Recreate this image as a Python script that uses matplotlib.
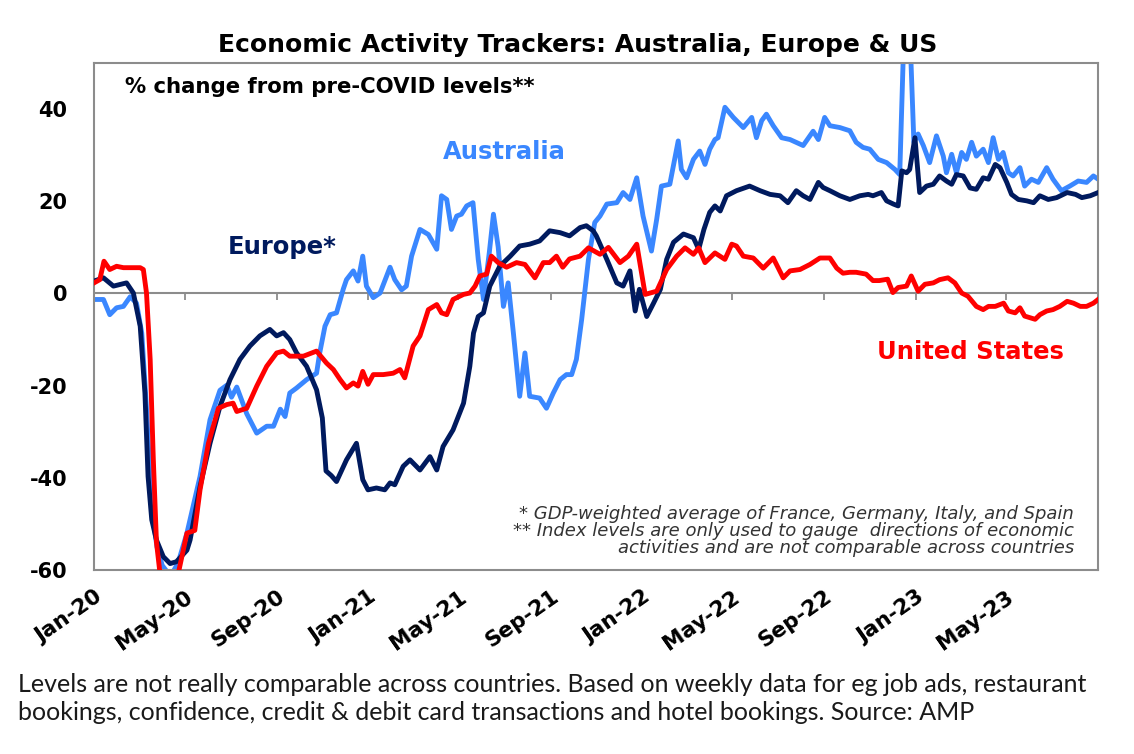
import numpy as np
import pandas as pd
import matplotlib
matplotlib.use("Agg")
import matplotlib.pyplot as plt

# Weekly trackers: weeks since 1 Jan 2020 and % change from pre-COVID.
start = pd.Timestamp("2020-01-01")

au_weeks = [0, 1.8, 3.0, 4.3, 5.6, 6.9, 8.1, 9.1, 10.0, 11.0, 12.0, 13.0, 14.0, 15.0, 16.0,
            17.7, 20.2, 22.1, 24.0, 25.3, 26.2, 27.2, 29.1, 31.0, 32.9, 34.2, 35.5, 36.4,
            37.3, 38.6, 40.5, 42.4, 43.0, 44.0, 45.0, 46.2, 47.5, 48.1, 49.4, 50.3, 51.2,
            51.9, 53.2, 54.5, 56.4, 57.3, 58.6, 59.5, 60.5, 62.1, 63.7, 65.3, 66.2, 67.2,
            68.1, 69.1, 70.0, 71.0, 72.2, 73.2, 74.2, 75.3, 76.1, 77.0, 78.0, 78.9, 79.9,
            81.1, 82.1, 83.0, 84.9, 86.2, 87.5, 88.8, 90.0, 91.0, 91.9, 92.9, 94.2, 95.4,
            96.4, 97.7, 99.6, 100.8, 102.1, 103.4, 104.6, 106.2, 107.2, 108.1, 109.7, 111.3,
            111.9, 112.9, 114.2, 115.4, 116.4, 117.3, 118.3, 118.9, 120.2, 121.8, 123.7,
            125.3, 126.2, 127.2, 128.1, 129.4, 131.0, 132.6, 135.1, 137.0, 138.0, 139.2,
            140.2, 142.1, 144.0, 145.2, 146.5, 147.8, 149.4, 151.0, 152.6, 153.5, 154.4,
            155.4, 156.2, 157.0, 158.0, 159.2, 160.5, 161.8, 162.4, 163.4, 164.3, 165.3,
            166.2, 167.2, 168.1, 169.4, 170.4, 171.3, 172.3, 173.2, 174.2, 175.1, 176.4,
            177.3, 178.6, 179.9, 181.5, 182.7, 184.3, 185.9, 187.5, 189.1, 190.4, 191.3]
au_vals = [-1.3, -1.3, -4.6, -3.1, -2.8, -0.7, -2.1, -8.6, -25, -47, -55, -59, -60.5, -60.5, -58.5,
           -52, -39.7, -27.4, -21, -19.9, -22.5, -20.3, -26.1, -30.3, -28.8, -28.8, -25.1, -26.7,
           -21.6, -20.5, -18.7, -17.3, -12.9, -7.1, -4.6, -4.2, 1.0, 3.0, 4.9, 2.7, 8.1,
           1.6, -0.9, 0.1, 5.7, 3.0, 0.8, 1.6, 8.1, 13.9, 12.8, 9.6, 21.2, 20.4,
           13.9, 16.8, 17.2, 19.0, 19.7, 7.4, -1.3, 8.8, 17.2, 10.1, -2.8, 2.3, -8.6,
           -22.3, -12.9, -22.3, -22.7, -24.9, -21.6, -18.7, -17.6, -17.6, -14.3, -5.7, 7.4, 15.4,
           16.8, 19.4, 19.7, 21.9, 20.4, 25.1, 16.8, 9.2, 16.1, 23.3, 23.7, 33.1,
           26.9, 25.1, 29.1, 30.9, 28.0, 31.3, 33.4, 33.8, 40.4, 38.2, 36.0,
           38.2, 33.8, 37.5, 38.9, 36.4, 33.8, 33.4, 32.1, 35.2, 33.4, 38.2,
           36.4, 36.0, 35.3, 32.8, 31.7, 31.3, 29.1, 28.4, 26.9, 25.8, 60,
           58, 32.8, 34.6, 32.1, 28.4, 34.2, 29.8, 26.2, 30.2, 26.2, 30.6,
           29.1, 32.8, 29.8, 31.3, 28.4, 33.8, 29.1, 30.6, 26.2, 25.5, 27.3,
           23.3, 24.8, 24.1, 27.3, 24.8, 22.3, 23.3, 24.4, 24.1, 25.5, 24.8]

eu_weeks = [0, 1.8, 3.7, 6.2, 7.5, 8.8, 9.7, 10.3, 11.0, 11.9, 13.2, 14.5, 15.7, 17.7, 18.3,
            20.2, 22.1, 24.0, 25.9, 27.8, 29.7, 31.6, 33.5, 34.8, 36.1, 37.3, 38.6, 40.5,
            42.4, 43.5, 44.2, 45.2, 46.2, 48.1, 50.0, 51.2, 52.2, 53.8, 55.4, 56.4, 57.3,
            58.9, 60.2, 62.1, 64.0, 65.3, 66.5, 68.4, 70.4, 71.6, 72.3, 73.2, 74.2, 75.4,
            77.3, 79.3, 81.1, 83.0, 84.9, 86.8, 88.8, 90.6, 92.6, 93.8, 95.1, 95.7, 97.7,
            99.6, 100.8, 102.1, 103.1, 103.9, 105.3, 106.6, 107.9, 109.1, 110.4, 112.3,
            114.2, 115.2, 116.2, 117.3, 118.3, 119.3, 120.5, 122.4, 124.9, 126.9, 128.8,
            130.7, 132.2, 133.8, 135.1, 136.4, 138.0, 138.9, 140.2, 142.1, 144.0, 145.9,
            147.5, 148.4, 150.0, 151.0, 152.3, 153.2, 153.9, 154.8, 155.4, 156.4, 157.3,
            158.6, 159.9, 161.1, 162.4, 163.4, 164.3, 165.6, 166.9, 168.1, 169.4, 170.4,
            171.7, 172.6, 173.9, 174.8, 176.1, 177.7, 179.0, 180.2, 181.8, 183.4, 185.4,
            187.0, 188.2, 189.8, 191.3]
eu_vals = [2.7, 3.4, 1.6, 2.3, 0.1, -7.1, -21.6, -39.7, -49.1, -53.5, -57.1, -58.6, -58.2, -55.7, -53.5,
           -41.9, -32.5, -24.5, -18.7, -14.3, -11.4, -9.2, -7.8, -9.2, -8.5, -10.0, -12.9, -15.8,
           -20.9, -27.0, -38.5, -39.5, -40.8, -36.1, -32.5, -40.4, -42.6, -42.2, -42.6, -41.1, -41.5,
           -37.5, -36.1, -38.3, -35.4, -38.3, -33.2, -29.6, -23.8, -15.8, -8.6, -5.0, -4.2, 1.6,
           5.9, 8.1, 10.3, 10.7, 11.4, 13.6, 13.2, 12.5, 14.3, 14.7, 13.6, 12.5, 7.4,
           2.3, 1.6, 4.9, -3.8, 0.9, -5.0, -2.1, 0.9, 7.4, 11.1, 12.9,
           12.1, 9.6, 13.9, 17.6, 19.0, 17.9, 21.2, 22.3, 23.3, 22.3, 21.5,
           21.2, 19.7, 22.3, 21.2, 20.4, 24.1, 23.0, 22.3, 21.2, 20.4, 21.2,
           21.5, 21.2, 21.9, 20.1, 19.4, 19.0, 26.6, 26.2, 26.9, 33.8, 21.9,
           23.3, 23.7, 25.5, 24.4, 23.7, 25.8, 25.5, 22.9, 22.6, 25.1, 24.8,
           28.0, 27.3, 24.1, 21.5, 20.4, 20.1, 19.7, 21.2, 20.4, 20.8, 21.9,
           21.5, 20.8, 21.2, 21.9]

us_weeks = [0, 1.1, 1.9, 3.0, 4.3, 5.6, 7.2, 8.8, 9.4, 10.0, 10.7, 11.3, 11.9, 12.6, 13.5, 15.0,
            16.1, 17.7, 19.2, 20.2, 21.8, 23.7, 25.3, 26.5, 27.2, 29.1, 31.0, 32.9, 34.8,
            36.1, 37.3, 39.9, 42.4, 44.3, 45.6, 46.9, 48.1, 49.4, 50.3, 51.2, 52.2, 53.2,
            55.1, 57.0, 58.3, 59.2, 60.8, 62.1, 63.7, 65.3, 66.2, 67.2, 68.4, 70.4, 71.6,
            72.6, 73.5, 74.8, 75.7, 77.0, 78.6, 80.5, 82.1, 84.0, 85.6, 86.8, 88.1, 89.3,
            90.6, 92.6, 94.2, 96.4, 98.0, 100.2, 101.8, 103.4, 105.0, 107.2, 109.1, 111.0,
            112.6, 114.2, 115.2, 116.4, 118.3, 120.2, 121.5, 122.4, 123.7, 125.6, 127.5,
            129.4, 131.3, 132.6, 134.5, 136.4, 138.3, 140.2, 141.5, 142.7, 144.0, 145.2,
            147.1, 148.4, 149.6, 151.2, 152.2, 153.2, 154.8, 155.7, 157.0, 158.3, 159.9,
            161.1, 162.7, 164.0, 165.3, 166.5, 168.1, 169.4, 170.4, 171.7, 173.3, 174.2,
            175.5, 176.4, 177.3, 179.3, 180.2, 181.5, 182.7, 184.0, 185.4, 186.6, 187.9,
            189.1, 190.4, 191.3]
us_vals = [2.3, 3.0, 7.0, 5.2, 5.9, 5.6, 5.6, 5.6, 5.2, 0.1, -14.3, -36, -54, -61, -64, -64,
           -60.5, -52, -51.4, -42.6, -32.5, -24.9, -24.1, -23.8, -25.6, -24.9, -20.1, -15.8, -12.9,
           -12.5, -13.6, -13.6, -12.5, -15.1, -16.5, -18.7, -20.5, -19.4, -20.1, -16.9, -19.7, -17.6,
           -17.6, -17.3, -16.5, -18.3, -11.4, -9.2, -3.5, -2.4, -4.2, -4.6, -1.3, -0.2, 0.1,
           1.6, 3.8, 4.2, 8.1, 6.7, 5.7, 6.7, 6.3, 3.4, 6.7, 6.7, 8.1, 5.7,
           7.5, 8.1, 9.9, 8.5, 10.0, 6.7, 8.1, 10.7, -0.2, 0.5, 5.2, 8.1,
           9.9, 8.5, 9.9, 6.7, 8.8, 7.4, 10.7, 10.3, 8.1, 7.7, 5.5,
           7.7, 3.4, 4.9, 5.2, 6.3, 7.7, 7.7, 5.5, 4.4, 4.6, 4.6,
           4.2, 2.8, 2.8, 3.1, 0.2, 1.3, 1.6, 3.8, 0.5, 2.0, 2.3,
           3.0, 3.4, 2.3, 0.1, -0.6, -2.8, -3.5, -2.8, -2.8, -2.1, -3.8,
           -4.2, -3.1, -4.9, -5.6, -4.6, -3.8, -3.5, -2.8, -1.7, -2.1, -2.8,
           -2.8, -2.1, -1.3]

tick_labels = ["Jan-20", "May-20", "Sep-20", "Jan-21", "May-21", "Sep-21",
               "Jan-22", "May-22", "Sep-22", "Jan-23", "May-23"]
y_ticks = [-60, -40, -20, 0, 20, 40]


def to_dates(weeks):
    return start + pd.to_timedelta(np.array(weeks) * 7, unit="D")


fig = plt.figure(figsize=(11.34, 7.54), dpi=100)
ax = fig.add_axes([0.0829, 0.244, 0.8854, 0.6724])

grey = "#8c8c8c"
ax.axhline(0, color=grey, lw=1.5, zorder=1)
ax.plot(to_dates(au_weeks), au_vals, color="#3a87ff", lw=3.5, zorder=2)
ax.plot(to_dates(eu_weeks), eu_vals, color="#001a5e", lw=3.5, zorder=3)
ax.plot(to_dates(us_weeks), us_vals, color="#ff0000", lw=3.5, zorder=4)

# small tick marks hang from the zero line, Excel style
tick_dates = pd.to_datetime(tick_labels, format="%b-%y")
ax.plot(tick_dates, np.zeros(len(tick_dates)), ls="none", marker=3, ms=5,
        color=grey, mew=1.3, zorder=1)

ax.set_xlim(start, start + pd.Timedelta(days=1339))
ax.set_ylim(-60, 50)
ax.set_yticks(y_ticks)
ax.set_yticklabels([str(v) for v in y_ticks], fontsize=15, fontweight="bold")
ax.tick_params(axis="y", length=0, pad=19)
ax.set_xticks(tick_dates)
ax.set_xticklabels(tick_labels, fontsize=15.5, fontweight="bold", rotation=35,
                   ha="right", va="top", rotation_mode="anchor")
ax.tick_params(axis="x", length=0, pad=12)

for side in ["left", "right", "top", "bottom"]:
    ax.spines[side].set_color(grey)
    ax.spines[side].set_linewidth(1.5)

ax.text(0.031, 0.953, "% change from pre-COVID levels**", transform=ax.transAxes,
        fontsize=15.3, fontweight="bold", ha="left", va="center")
ax.text(0.409, 0.824, "Australia", transform=ax.transAxes, color="#3a87ff",
        fontsize=17.5, fontweight="bold", ha="center", va="center")
ax.text(0.187, 0.637, "Europe*", transform=ax.transAxes, color="#001a5e",
        fontsize=17.5, fontweight="bold", ha="center", va="center")
ax.text(0.873, 0.430, "United States", transform=ax.transAxes, color="#ff0000",
        fontsize=17.5, fontweight="bold", ha="center", va="center")
ax.text(0.976, 0.026,
        "* GDP-weighted average of France, Germany, Italy, and Spain\n"
        "** Index levels are only used to gauge  directions of economic\n"
        "activities and are not comparable across countries",
        transform=ax.transAxes, fontsize=13, style="italic", color="#333333",
        ha="right", va="bottom", linespacing=0.92)

fig.text(0.509, 0.940, "Economic Activity Trackers: Australia, Europe & US",
         fontsize=18, fontweight="bold", ha="center", va="center")
fig.text(0.016, 0.108,
         "Levels are not really comparable across countries. Based on weekly data for eg job ads, restaurant\n"
         "bookings, confidence, credit & debit card transactions and hotel bookings. Source: AMP",
         fontsize=18, family="Lato", color="#1a1a1a", ha="left", va="top", linespacing=1.3)

fig.savefig("out.png", dpi=100)
